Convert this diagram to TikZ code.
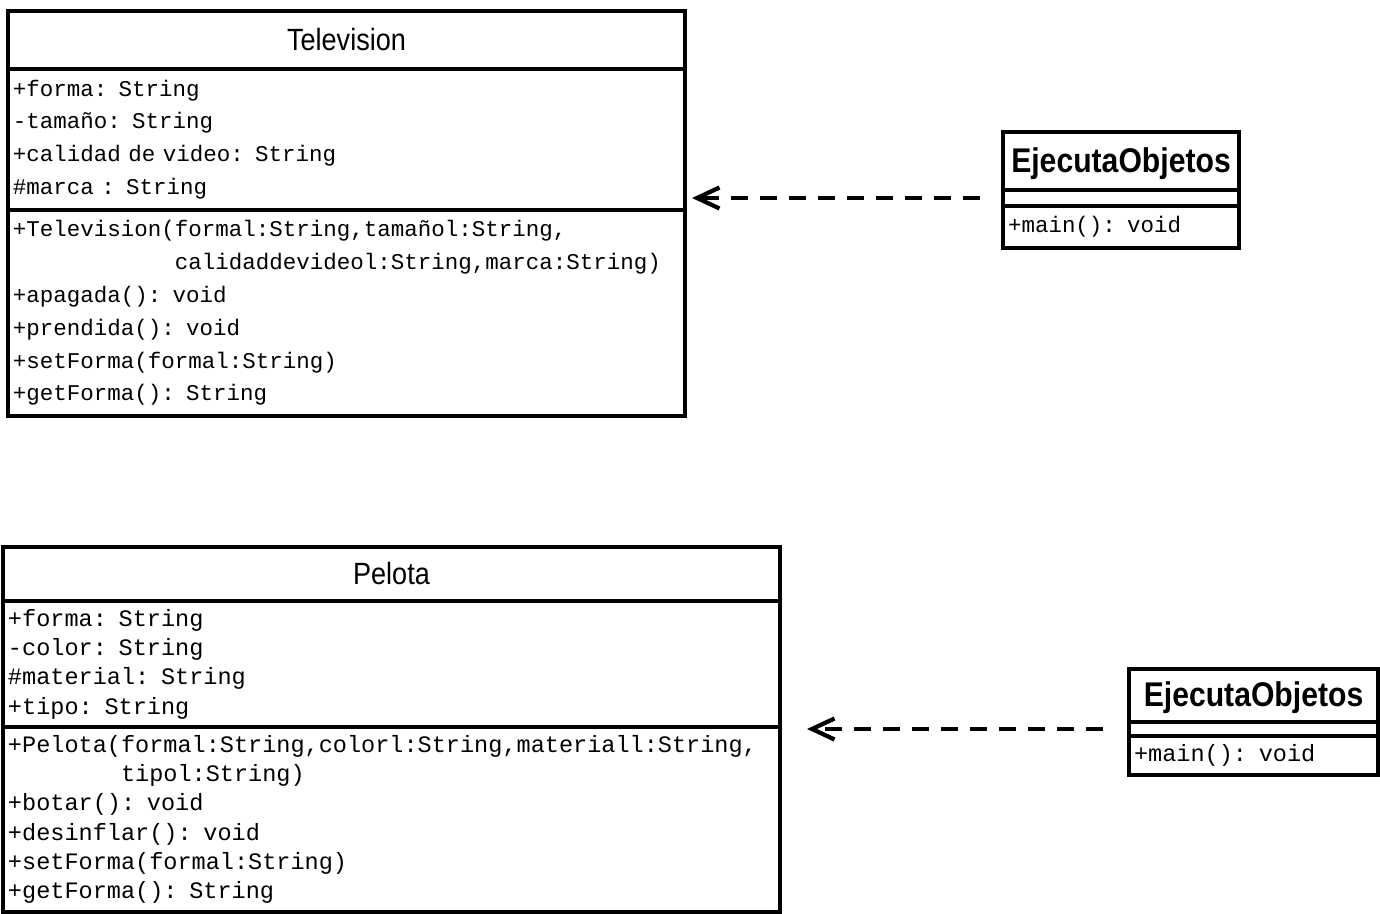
\documentclass[tikz,border=0pt]{standalone}
\usepackage{fontspec}
\setmonofont{Liberation Mono}
\newfontfamily\titlefont[FakeStretch=0.88]{Liberation Sans}
\usepackage{tikz}
\usetikzlibrary{positioning,arrows.meta}

\begin{document}
\begin{tikzpicture}[
    classtitle/.style={draw, line width=2pt, outer sep=0pt, inner sep=0pt, font=\titlefont\fontsize{17.5}{20}\selectfont},
    maintitle/.style={classtitle, text depth=0.05cm, font=\titlefont\bfseries\fontsize{19.5}{22}\selectfont},
    classpart/.style={draw, line width=2pt, outer sep=0pt, inner xsep=0.1cm, inner ysep=0pt, align=left, font=\ttfamily\fontsize{12.8}{18.7}\selectfont},
    bigpart/.style={classpart, font=\ttfamily\fontsize{13.4}{16.7}\selectfont},
    dep/.style={-{Straight Barb[length=0.45cm,width=0.42cm]}, line width=2.4pt, dash pattern=on 0.34cm off 0.24cm}
]
\useasboundingbox (0,0) rectangle (27.6,-18.28);

% Television
\node[classtitle, minimum width=13.54cm, minimum height=1.16cm, anchor=north west] (tv) at (0.16,-0.22) {Television};
\node[classpart, minimum width=13.54cm, text width=13.34cm, minimum height=2.82cm, below=0pt of tv] (tvattr) {+forma: String\\
-tamaño: String\\
+calidad de video: String\\
\#marca : String};
\node[classpart, minimum width=13.54cm, text width=13.34cm, minimum height=4.12cm, below=0pt of tvattr] (tvmeth) {+Television(formal:String,tamañol:String,\\
\phantom{+Television(}calidaddevideol:String,marca:String)\\
+apagada(): void\\
+prendida(): void\\
+setForma(formal:String)\\
+getForma(): String};

\node[maintitle, minimum width=4.72cm, minimum height=1.16cm, anchor=north west] (ej1) at (20.06,-2.64) {EjecutaObjetos};
\node[classpart, minimum width=4.72cm, minimum height=0.32cm, below=0pt of ej1] (ej1e) {};
\node[classpart, minimum width=4.72cm, text width=4.52cm, minimum height=0.84cm, below=0pt of ej1e] (ej1m) {+main(): void};

\draw[dep, shorten <=0.46cm, shorten >=0.14cm] (ej1e.west) -- (ej1e.west -| tvattr.east);

% Pelota
\node[classtitle, minimum width=15.54cm, minimum height=1.08cm, anchor=north west] (pel) at (0.06,-10.94) {Pelota};
\node[bigpart, minimum width=15.54cm, text width=15.34cm, minimum height=2.52cm, below=0pt of pel] (pelattr) {+forma: String\\
-color: String\\
\#material: String\\
+tipo: String};
\node[bigpart, minimum width=15.54cm, text width=15.34cm, minimum height=3.70cm, below=0pt of pelattr] (pelmeth) {+Pelota(formal:String,colorl:String,materiall:String,\\
\phantom{+Pelota(}tipol:String)\\
+botar(): void\\
+desinflar(): void\\
+setForma(formal:String)\\
+getForma(): String};

\node[maintitle, minimum width=4.98cm, minimum height=1.06cm, anchor=north west] (ej2) at (22.58,-13.38) {EjecutaObjetos};
\node[bigpart, minimum width=4.98cm, minimum height=0.28cm, below=0pt of ej2] (ej2e) {};
\node[bigpart, minimum width=4.98cm, text width=4.78cm, minimum height=0.78cm, below=0pt of ej2e] (ej2m) {+main(): void};

\draw[dep, shorten <=0.52cm, shorten >=0.54cm] (ej2e.west) -- (ej2e.west -| pelattr.east);
\end{tikzpicture}
\end{document}
